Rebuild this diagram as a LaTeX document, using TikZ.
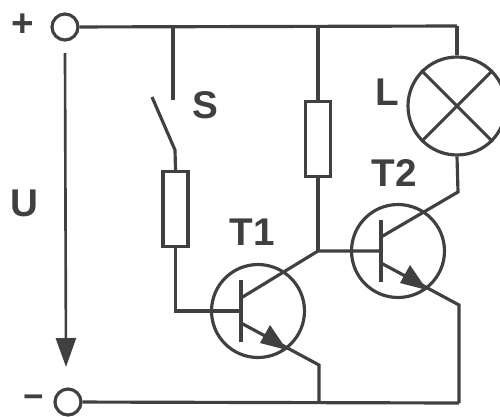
\documentclass[tikz,border=0pt]{standalone}
\usepackage{fontspec}
\setmainfont{Liberation Sans}
\usetikzlibrary{arrows.meta}
\definecolor{ink}{gray}{0.25}
\tikzset{
    wire/.style={ink, line width=1.8pt},
    terminal/.style={draw=ink, circle, line width=1.8pt, inner sep=0pt, minimum size=0.52cm, fill=white},
    resistor/.style={draw=ink, rectangle, line width=1.8pt, inner sep=0pt, minimum width=0.5cm, minimum height=1.5cm},
    transistor/.style={draw=ink, circle, line width=1.8pt, inner sep=0pt, minimum size=1.86cm},
    lamp/.style={draw=ink, circle, line width=1.8pt, inner sep=0pt, minimum size=1.96cm},
    label/.style={ink, font=\bfseries\fontsize{22}{22}\selectfont, inner sep=0pt}
}
\begin{document}
\begin{tikzpicture}[x=0.02cm, y=-0.02cm]

    \useasboundingbox (0,0) rectangle (500,416);

    % terminals
    \node[terminal] (P) at (65, 27) { };
    \node[terminal] (M) at (68, 402) { };
    \node[label] (plus) at (23, 25) {+};
    \node[label, font=\bfseries\fontsize{20}{20}\selectfont] (minus) at (34, 402) {\textminus};
    \node[label] (Ulabel) at (24, 203) {U};

    % voltage arrow
    \coordinate (Utop) at (65, 53);
    \coordinate (Ubot) at (66, 367);
    \draw[wire, line width=1.5pt, -{Triangle[length=0.58cm, width=0.4cm]}] (Utop) -- (Ubot);

    % rails
    \coordinate (Ltop) at (457, 26);
    \coordinate (Rbot) at (459, 403);
    \draw[wire] (P) -- (Ltop);
    \draw[wire] (M) -- (Rbot);

    % switch and resistors
    \coordinate (Stop) at (173, 26);
    \coordinate (Sup) at (173, 100);
    \coordinate (Sfree) at (152, 97);
    \coordinate (Shinge) at (175, 150);
    \node[resistor] (R1) at (175.5, 209) { };
    \node[resistor] (R2) at (318, 139) { };
    \node[label] (Slabel) at (205, 105) {S};
    \draw[wire] (Stop) -- (Sup);
    \draw[wire] (Sfree) -- (Shinge) -- (R1.north);

    % lamp
    \node[lamp] (L) at (457, 106) { };
    \node[label] (Llabel) at (387, 92) {L};
    \draw[wire] (Ltop) -- (L.north);
    \draw[wire] (L.45) -- (L.225);
    \draw[wire] (L.135) -- (L.315);

    % transistors
    \node[transistor] (T1) at (258, 311) { };
    \node[transistor] (T2) at (398, 251) { };
    \node[label] (T1label) at (252, 232) {T1};
    \node[label] (T2label) at (394, 173) {T2};

    \coordinate (B1) at (241, 311);
    \coordinate (C1) at (241, 298);
    \coordinate (E1) at (241, 323);
    \coordinate (B2) at (381, 251);
    \coordinate (C2) at (381, 237);
    \coordinate (E2) at (381, 263);
    \coordinate (J) at (318, 251);
    \coordinate (K1) at (175.5, 311);
    \coordinate (A1) at (319, 365);
    \coordinate (F1) at (319, 403);
    \coordinate (A2) at (459, 305);
    \coordinate (K2) at (458, 192);
    \coordinate (R2top) at (318, 26);

    \draw[wire] (241, 280) -- (241, 342);
    \draw[wire] (381, 220) -- (381, 282);

    \draw[wire] (R1.south) -- (K1) -- (B1);
    \draw[wire] (C1) -- (J) -- (B2);
    \draw[wire] (R2top) -- (R2.north);
    \draw[wire] (R2.south) -- (J);
    \draw[wire] (C2) -- (K2) -- (L.south);
    \draw[wire] (E1) -- (A1) -- (F1);
    \draw[wire] (E2) -- (A2) -- (Rbot);

    % emitter arrows
    \fill[ink] (287, 350) -- (260, 343) -- (270, 325) -- cycle;
    \fill[ink] (427, 290) -- (400, 283) -- (410, 265) -- cycle;

\end{tikzpicture}
\end{document}
